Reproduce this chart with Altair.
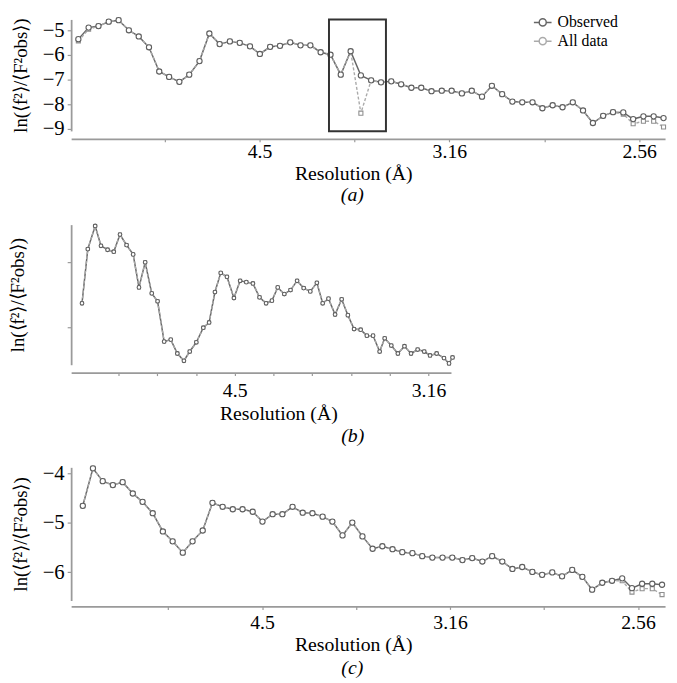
import altair as alt
import pandas as pd

SERIES = ["Observed", "All data"]
LINE_COLORS = ["#666666", "#aaaaaa"]
POINT_COLORS = ["#5e5e5e", "#8f8f8f"]

# resolution bins as s^2 = 1/d^2 (A^-2), panels (a) and (c)
s2_ac = [0.0023, 0.0050, 0.0076, 0.0103, 0.0129, 0.0156, 0.0182, 0.0209, 0.0236, 0.0262,
         0.0289, 0.0315, 0.0342, 0.0368, 0.0395, 0.0422, 0.0448, 0.0475, 0.0501, 0.0528,
         0.0554, 0.0581, 0.0608, 0.0634, 0.0661, 0.0687, 0.0714, 0.0740, 0.0767, 0.0794,
         0.0820, 0.0847, 0.0873, 0.0900, 0.0926, 0.0953, 0.0980, 0.1006, 0.1033, 0.1059,
         0.1086, 0.1112, 0.1139, 0.1166, 0.1192, 0.1219, 0.1245, 0.1272, 0.1298, 0.1325,
         0.1352, 0.1378, 0.1405, 0.1431, 0.1458, 0.1484, 0.1511, 0.1538, 0.1564]

obs_a = [-5.36, -4.89, -4.83, -4.65, -4.59, -5.00, -5.25, -5.69, -6.67, -6.89,
         -7.09, -6.80, -6.25, -5.13, -5.56, -5.45, -5.51, -5.65, -5.96, -5.67,
         -5.63, -5.49, -5.61, -5.61, -5.89, -5.99, -6.80, -5.85, -6.83, -7.03,
         -7.11, -7.07, -7.19, -7.33, -7.33, -7.47, -7.45, -7.45, -7.56, -7.45,
         -7.69, -7.25, -7.59, -7.89, -7.92, -7.92, -8.16, -8.04, -8.12, -7.92,
         -8.25, -8.76, -8.47, -8.32, -8.33, -8.60, -8.49, -8.49, -8.56]
all_a = [-5.43, -4.96, -4.83, -4.65, -4.59, -5.00, -5.25, -5.69, -6.67, -6.89,
         -7.09, -6.80, -6.25, -5.13, -5.56, -5.45, -5.51, -5.65, -5.96, -5.67,
         -5.63, -5.49, -5.61, -5.61, -5.89, -5.99, -6.80, -5.85, -8.36, -7.03,
         -7.11, -7.07, -7.19, -7.33, -7.33, -7.47, -7.45, -7.45, -7.56, -7.45,
         -7.69, -7.25, -7.59, -7.89, -7.92, -7.92, -8.16, -8.04, -8.12, -7.92,
         -8.25, -8.76, -8.47, -8.32, -8.40, -8.79, -8.69, -8.69, -8.92]

obs_c = [-4.65, -3.89, -4.15, -4.23, -4.17, -4.40, -4.57, -4.80, -5.17, -5.37,
         -5.60, -5.37, -5.15, -4.59, -4.67, -4.72, -4.72, -4.77, -4.97, -4.82,
         -4.82, -4.67, -4.79, -4.80, -4.87, -4.97, -5.25, -4.99, -5.27, -5.52,
         -5.47, -5.53, -5.59, -5.61, -5.67, -5.70, -5.70, -5.70, -5.75, -5.71,
         -5.78, -5.67, -5.78, -5.93, -5.89, -5.99, -6.05, -6.00, -6.08, -5.95,
         -6.09, -6.35, -6.21, -6.17, -6.12, -6.32, -6.23, -6.23, -6.25]
all_c = [-4.65, -3.89, -4.15, -4.23, -4.17, -4.40, -4.57, -4.80, -5.17, -5.37,
         -5.60, -5.37, -5.15, -4.59, -4.67, -4.72, -4.72, -4.77, -4.97, -4.82,
         -4.82, -4.67, -4.79, -4.80, -4.87, -4.97, -5.25, -4.99, -5.27, -5.52,
         -5.47, -5.53, -5.59, -5.61, -5.67, -5.70, -5.70, -5.70, -5.75, -5.71,
         -5.78, -5.67, -5.78, -5.93, -5.89, -5.99, -6.05, -6.00, -6.08, -5.95,
         -6.09, -6.35, -6.21, -6.17, -6.17, -6.40, -6.33, -6.33, -6.45]

# panel (b): finer bins, 4.5 to 3.16 A region
s2_b = [0.0106, 0.0121, 0.0140, 0.0155, 0.0172, 0.0188, 0.0204, 0.0221, 0.0238, 0.0253,
        0.0269, 0.0286, 0.0301, 0.0318, 0.0335, 0.0352, 0.0369, 0.0384, 0.0401, 0.0419,
        0.0434, 0.0449, 0.0464, 0.0480, 0.0498, 0.0514, 0.0530, 0.0547, 0.0564, 0.0581,
        0.0596, 0.0611, 0.0628, 0.0644, 0.0661, 0.0678, 0.0695, 0.0712, 0.0727, 0.0742,
        0.0759, 0.0776, 0.0792, 0.0808, 0.0825, 0.0841, 0.0857, 0.0874, 0.0887, 0.0904,
        0.0921, 0.0938, 0.0955, 0.0972, 0.0989, 0.1004, 0.1021, 0.1040, 0.1053, 0.1062]
obs_b = [-5.63, -4.81, -4.46, -4.76, -4.82, -4.85, -4.59, -4.75, -4.89, -5.39,
         -5.01, -5.48, -5.60, -6.21, -6.18, -6.39, -6.50, -6.36, -6.22, -6.00,
         -5.92, -5.46, -5.17, -5.23, -5.55, -5.29, -5.31, -5.33, -5.54, -5.63,
         -5.59, -5.39, -5.49, -5.43, -5.29, -5.40, -5.45, -5.32, -5.63, -5.56,
         -5.80, -5.57, -5.81, -6.02, -6.03, -6.12, -6.12, -6.36, -6.16, -6.27,
         -6.39, -6.28, -6.39, -6.33, -6.36, -6.42, -6.39, -6.46, -6.54, -6.45]
all_b = [-5.63, -4.81, -4.46, -4.76, -4.82, -4.85, -4.59, -4.75, -4.89, -5.39,
         -5.01, -5.48, -5.60, -6.21, -6.18, -6.39, -6.50, -6.36, -6.22, -6.00,
         -5.92, -5.46, -5.17, -5.23, -5.55, -5.29, -5.31, -5.33, -5.54, -5.63,
         -5.59, -5.39, -5.49, -5.43, -5.29, -5.40, -5.45, -5.32, -5.63, -5.56,
         -5.80, -5.57, -5.81, -6.02, -6.03, -6.12, -6.12, -6.36, -6.16, -6.27,
         -6.39, -6.28, -6.39, -6.33, -6.36, -6.42, -6.39, -6.46, -6.54, -6.45]

x_ticks_ac = [0.025, 0.05, 0.075, 0.1, 0.125, 0.15]
x_labels_ac = ["", "4.5", "", "3.16", "", "2.56"]
x_ticks_b = [0.02, 0.03, 0.04, 0.05, 0.06, 0.07, 0.08, 0.09, 0.1]
x_labels_b = ["", "", "", "4.5", "", "", "", "", "3.16"]
y_ticks_a = [-9, -8, -7, -6, -5]
y_ticks_b = [-6, -5]
y_ticks_c = [-6, -5, -4]
box_a_x = [0.0683, 0.0833]
box_a_y = [-4.56, -9.09]

FONT = "Liberation Serif"
Y_TITLE = "ln(⟨f²⟩/⟨F²obs⟩)"
X_TITLE = "Resolution (Å)"
AXIS_GRAY = "#9a9a9a"
LEGEND_SYMBOL = "M-1,0L-0.4,0M0.4,0L1,0M-0.4,0A0.4,0.4,0,1,1,0.4,0A0.4,0.4,0,1,1,-0.4,0Z"


def label_expr(vals, labs):
    parts = [f"abs(datum.value - {v}) < 1e-9 ? '{l}'" for v, l in zip(vals, labs) if l]
    return " : ".join(parts) + " : ''"


def make_panel(s2, obs, alld, xdom, ydom, w, h, xticks, xlabels, yticks, ylabels_on,
               ytitle_pad, xtitle_x, caption, cap_dx, x_offset, pt_size, legend,
               xlab_pad, xtitle_pad, cap_offset, box=None):
    df_obs = pd.DataFrame({"s2": s2, "val": obs, "series": "Observed"})
    df_all = pd.DataFrame({"s2": s2, "val": alld, "series": "All data"})

    xaxis = alt.Axis(values=xticks, labelExpr=label_expr(xticks, xlabels), title=X_TITLE,
                     titleX=xtitle_x, offset=x_offset, grid=False, domainColor=AXIS_GRAY,
                     domainWidth=1.8, tickColor=AXIS_GRAY, tickWidth=1.2, tickSize=3,
                     labelFont=FONT, labelFontSize=20, labelColor="black",
                     labelPadding=xlab_pad, labelFlush=False, labelOverlap=False,
                     titleFont=FONT, titleFontSize=20, titleFontWeight="normal",
                     titleColor="black", titlePadding=xtitle_pad)
    yaxis = alt.Axis(values=yticks, labels=ylabels_on, format="d", title=Y_TITLE, grid=False,
                     domainColor=AXIS_GRAY, domainWidth=1.8, tickColor=AXIS_GRAY, tickWidth=1.2,
                     tickSize=4, labelFont=FONT, labelFontSize=21, labelColor="black",
                     labelPadding=3, titleFont=FONT, titleFontSize=19, titleFontWeight="normal",
                     titleColor="black", titlePadding=ytitle_pad)
    xs = alt.Scale(domain=xdom, nice=False, zero=False)
    ys = alt.Scale(domain=ydom, nice=False, zero=False)
    X = alt.X("s2:Q", scale=xs, axis=xaxis)
    Y = alt.Y("val:Q", scale=ys, axis=yaxis)

    cscale = alt.Scale(domain=SERIES, range=LINE_COLORS)
    if legend is not None:
        col = alt.Color("series:N", scale=cscale, legend=legend)
    else:
        col = alt.Color("series:N", scale=cscale, legend=None)

    line_obs = alt.Chart(df_obs).mark_line(strokeWidth=1.5).encode(x=X, y=Y, color=col)
    line_all = alt.Chart(df_all).mark_line(strokeWidth=1.4, strokeDash=[3, 2]).encode(
        x=X, y=Y, color=col)
    pts_all = alt.Chart(df_all).mark_point(filled=True, fill="white", shape="square",
                                           stroke=POINT_COLORS[1], size=pt_size * 0.6,
                                           strokeWidth=1.1, opacity=1).encode(x=X, y=Y)
    pts_obs = alt.Chart(df_obs).mark_point(filled=True, fill="white", shape="circle",
                                           stroke=POINT_COLORS[0], size=pt_size,
                                           strokeWidth=1.1, opacity=1).encode(x=X, y=Y)
    layers = [line_obs, line_all, pts_all, pts_obs]
    if box is not None:
        bdf = pd.DataFrame({"x": [box[0][0]], "x2": [box[0][1]],
                            "y": [box[1][0]], "y2": [box[1][1]]})
        rect = alt.Chart(bdf).mark_rect(fill="transparent", stroke="#333333",
                                        strokeWidth=2).encode(
            x=alt.X("x:Q", scale=xs, axis=xaxis), x2="x2:Q",
            y=alt.Y("y:Q", scale=ys, axis=yaxis), y2="y2:Q")
        layers.append(rect)
    return alt.layer(*layers).properties(
        width=w, height=h,
        title=alt.TitleParams(caption, orient="bottom", anchor="middle", dx=cap_dx, font=FONT,
                              fontSize=20, fontStyle="italic", fontWeight="normal",
                              color="black", offset=cap_offset))


legend_a = alt.Legend(title=None, orient="none", legendX=468, legendY=-7,
                      symbolType=LEGEND_SYMBOL, symbolSize=320, symbolStrokeWidth=1.5,
                      symbolFillColor="white", labelFont=FONT, labelFontSize=16,
                      labelColor="black", rowPadding=1, labelOffset=5)

panel_a = make_panel(s2_ac, obs_a, all_a, [0.0004, 0.1568], [-9.08, -4.56], 602, 113,
                     x_ticks_ac, x_labels_ac, y_ticks_a, True, 12, 286, "(a)", -16, 8, 28,
                     legend_a, 0, 2, 2, box=(box_a_x, box_a_y))
panel_b = make_panel(s2_b, obs_b, all_b, [0.0078, 0.1058], [-6.56, -4.44], 385, 142,
                     x_ticks_b, x_labels_b, y_ticks_b, False, 40, 210, "(b)", 93, 8, 14, None,
                     5, 4, 2)
panel_c = make_panel(s2_ac, obs_c, all_c, [-0.0008, 0.1572], [-6.57, -3.87], 602, 135,
                     x_ticks_ac, x_labels_ac, y_ticks_c, True, 12, 286, "(c)", -16, 6, 28, None,
                     3, 3, 3)

chart = alt.vconcat(panel_a, panel_b, panel_c, spacing=17).resolve_scale(
    color="independent", x="independent", y="independent"
).resolve_legend(color="independent").configure_view(stroke=None).properties(
    padding=0, background="white")

chart.save("out.html", embed_options={"renderer": "svg", "actions": False})
